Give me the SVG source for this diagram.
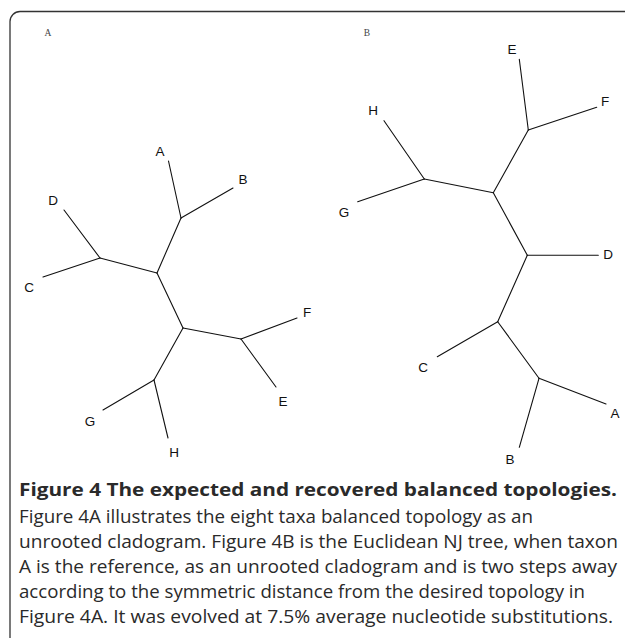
<svg xmlns="http://www.w3.org/2000/svg" width="627" height="638" viewBox="0 0 627 638">
<style>
.br{stroke:#111;stroke-width:1.1;fill:none;stroke-linecap:round}
.lb{font-family:"Liberation Sans",Arial,sans-serif;font-size:13.5px;fill:#111;text-anchor:middle}
.pl{font-family:"Liberation Serif","Times New Roman",serif;font-size:9.5px;fill:#444;text-anchor:middle}
.cap{font-family:"Open Sans",sans-serif;font-size:17.5px;fill:#2a2a2a}
</style>
<rect width="627" height="638" fill="#fff"/>
<path d="M625,11.5 H20 A10,10 0 0 0 10,21.5 V638" fill="none" stroke="#333" stroke-width="1.3"/>
<text class="pl" x="48" y="35.5">A</text>
<text class="pl" x="367" y="35.5">B</text>
<g id="connectors">
<g id="treeA" class="br">
<path d="M168.5,161 L181,218"/>
<path d="M181,218 L233,188"/>
<path d="M181,218 L157,273"/>
<path d="M64,210 L100,258"/>
<path d="M43,277 L100,258"/>
<path d="M100,258 L157,273"/>
<path d="M157,273 L183,328"/>
<path d="M183,328 L241,339"/>
<path d="M241,339 L297,318"/>
<path d="M241,339 L276,387"/>
<path d="M183,328 L154,380"/>
<path d="M154,380 L103,410"/>
<path d="M154,380 L168,438"/>
</g>
<g id="treeB" class="br">
<path d="M519.3,59.3 L528.3,130"/>
<path d="M528.3,130 L596.7,107.3"/>
<path d="M528.3,130 L493.3,192.7"/>
<path d="M384,120.7 L424.3,179"/>
<path d="M357.7,201.7 L424.3,179"/>
<path d="M424.3,179 L493.3,192.7"/>
<path d="M493.3,192.7 L527.3,255.3"/>
<path d="M527.3,255.3 L598.3,255.3"/>
<path d="M527.3,255.3 L497.7,321.7"/>
<path d="M497.7,321.7 L437.3,356.7"/>
<path d="M497.7,321.7 L539,378.3"/>
<path d="M539,378.3 L606,404"/>
<path d="M539,378.3 L519.3,447.3"/>
</g>
</g>
<g id="nodeA-A"><text class="lb" x="160" y="156">A</text></g>
<g id="nodeA-B"><text class="lb" x="243" y="184">B</text></g>
<g id="nodeA-D"><text class="lb" x="53" y="205">D</text></g>
<g id="nodeA-C"><text class="lb" x="29" y="292">C</text></g>
<g id="nodeA-F"><text class="lb" x="307" y="317">F</text></g>
<g id="nodeA-E"><text class="lb" x="283" y="405.5">E</text></g>
<g id="nodeA-G"><text class="lb" x="90" y="426">G</text></g>
<g id="nodeA-H"><text class="lb" x="174" y="457">H</text></g>
<g id="nodeB-E"><text class="lb" x="512" y="54">E</text></g>
<g id="nodeB-F"><text class="lb" x="605" y="106">F</text></g>
<g id="nodeB-H"><text class="lb" x="373" y="115">H</text></g>
<g id="nodeB-G"><text class="lb" x="344" y="217">G</text></g>
<g id="nodeB-D"><text class="lb" x="608" y="259">D</text></g>
<g id="nodeB-C"><text class="lb" x="423" y="372">C</text></g>
<g id="nodeB-A"><text class="lb" x="615" y="418">A</text></g>
<g id="nodeB-B"><text class="lb" x="510" y="464">B</text></g>
<g id="caption">
<text class="cap" x="19" y="495.5" font-weight="bold" textLength="598" lengthAdjust="spacingAndGlyphs">Figure 4 The expected and recovered balanced topologies.</text>
<text class="cap" x="19" y="523" textLength="514" lengthAdjust="spacingAndGlyphs">Figure 4A illustrates the eight taxa balanced topology as an</text>
<text class="cap" x="19" y="548" textLength="599" lengthAdjust="spacingAndGlyphs">unrooted cladogram. Figure 4B is the Euclidean NJ tree, when taxon</text>
<text class="cap" x="19" y="573" textLength="598" lengthAdjust="spacingAndGlyphs">A is the reference, as an unrooted cladogram and is two steps away</text>
<text class="cap" x="19" y="598" textLength="566" lengthAdjust="spacingAndGlyphs">according to the symmetric distance from the desired topology in</text>
<text class="cap" x="19" y="623" textLength="594" lengthAdjust="spacingAndGlyphs">Figure 4A. It was evolved at 7.5% average nucleotide substitutions.</text>
</g>
</svg>
